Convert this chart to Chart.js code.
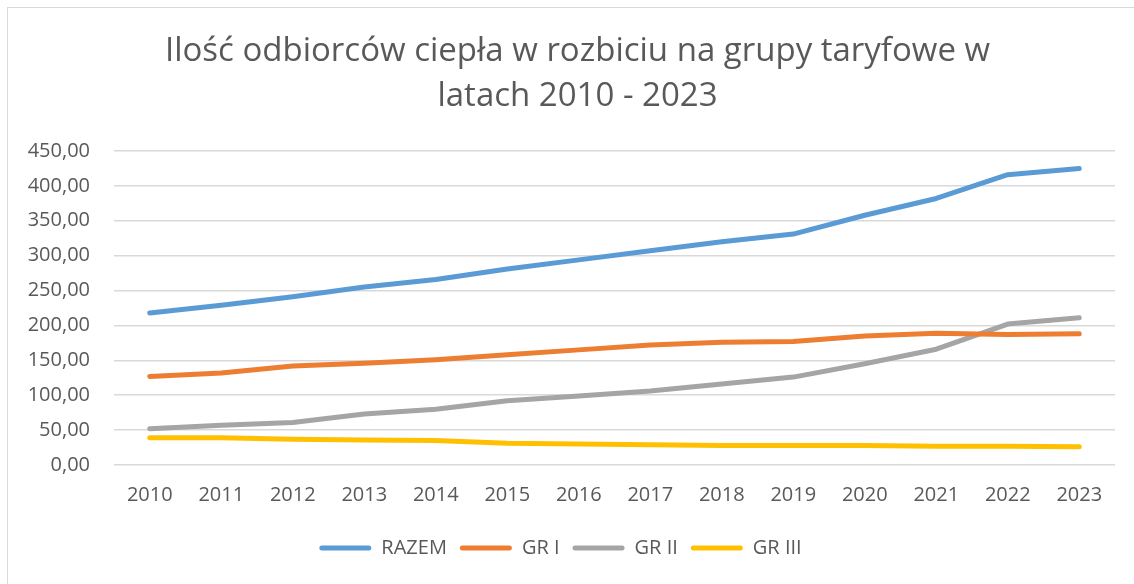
<!DOCTYPE html>
<html>
<head>
<meta charset="utf-8">
<script src="https://cdn.jsdelivr.net/npm/chart.js@4"></script>
<style>
  html, body { margin: 0; padding: 0; background: #fff; }
  #frame { position: absolute; left: 7px; top: 7px; width: 1140px; height: 600px; border: 1px solid #d9d9d9; box-sizing: border-box; }
  #wrap { position: absolute; left: 0; top: 0; width: 1134px; height: 584px; }
</style>
</head>
<body>
<div id="frame"></div>
<div id="wrap"><canvas id="c" width="1134" height="584"></canvas></div>
<script>
const years = ['2010','2011','2012','2013','2014','2015','2016','2017','2018','2019','2020','2021','2022','2023'];
const razem = [218, 229, 241, 255, 266, 281, 294, 307, 320, 331, 358, 382, 416, 425];
const grI   = [127, 132, 142, 146, 151, 158, 165, 172, 176, 177, 185, 189, 187, 188];
const grII  = [52, 57, 61, 73, 80, 92, 99, 106, 116, 126, 145, 166, 202, 211];
const grIII = [39, 39, 37, 36, 35, 31, 30, 29, 28, 28, 28, 27, 27, 26];
const seriesNames = ['RAZEM', 'GR I', 'GR II', 'GR III'];
const yTicks = [0, 50, 100, 150, 200, 250, 300, 350, 400, 450];
const titleLines = ['Ilość odbiorców ciepła w rozbiciu na grupy taryfowe w', 'latach 2010 - 2023'];

const colors = ['#5b9bd5', '#ed7d31', '#a5a5a5', '#ffc000'];
const txt = '#595959';
const font = '"Open Sans", Lato, sans-serif';

function ds(label, data, color) {
  return {
    label, data,
    borderColor: color, backgroundColor: color,
    borderWidth: 5, pointRadius: 0, pointHoverRadius: 0,
    borderCapStyle: 'round', borderJoinStyle: 'round',
    tension: 0, fill: false
  };
}

// nudge title right and legend left, as centred in the reference
const blockShift = {
  id: 'blockShift',
  afterLayout(chart) {
    const lg = chart.legend;
    if (lg) { lg.left -= 7; lg.right -= 7; }
    const tb = chart.titleBlock;
    if (tb) { tb.left += 10; tb.right += 10; }
  }
};

new Chart(document.getElementById('c'), {
  type: 'line',
  data: {
    labels: years,
    datasets: [
      ds(seriesNames[0], razem, colors[0]),
      ds(seriesNames[1], grI, colors[1]),
      ds(seriesNames[2], grII, colors[2]),
      ds(seriesNames[3], grIII, colors[3])
    ]
  },
  plugins: [blockShift],
  options: {
    responsive: false,
    animation: false,
    devicePixelRatio: 1,
    layout: { padding: { left: 20, right: 19, top: 0, bottom: 16 } },
    plugins: {
      tooltip: { enabled: false },
      title: {
        display: true,
        text: titleLines,
        color: txt,
        font: { family: font, size: 33, weight: 'normal', lineHeight: 1.364 },
        padding: { top: 29, bottom: 32 }
      },
      legend: {
        position: 'bottom',
        labels: {
          color: txt,
          font: { family: font, size: 20 },
          boxWidth: 52,
          boxHeight: 5,
          useBorderRadius: true,
          borderRadius: 2.5,
          padding: 13,
          generateLabels(chart) {
            return chart.data.datasets.map((d, i) => ({
              text: d.label,
              fillStyle: d.borderColor,
              strokeStyle: d.borderColor,
              lineWidth: 0,
              hidden: false,
              datasetIndex: i,
              fontColor: txt,
              borderRadius: 2.5
            }));
          }
        }
      }
    },
    scales: {
      x: {
        offset: true,
        grid: { display: false, drawTicks: false },
        border: { display: false },
        ticks: { color: txt, font: { family: font, size: 20 }, padding: 18, maxRotation: 0 }
      },
      y: {
        min: 0, max: 450,
        afterBuildTicks(scale) { scale.ticks = yTicks.map(v => ({ value: v })); },
        afterFit(scale) { scale.width = 94; },
        grid: { color: '#d9d9d9', lineWidth: 1.5, drawTicks: false },
        border: { display: false },
        ticks: {
          color: txt, font: { family: font, size: 20 }, padding: 24,
          callback: v => Number(v).toFixed(2).replace('.', ',')
        }
      }
    }
  }
});
</script>
</body>
</html>
